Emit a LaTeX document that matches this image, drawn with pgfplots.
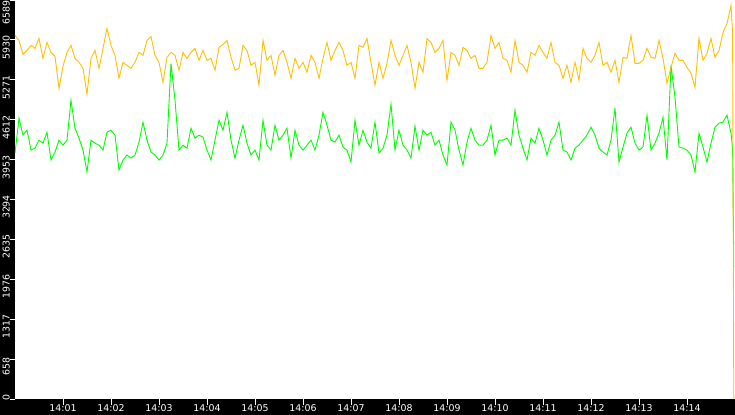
\documentclass[border=0pt]{standalone}
\usepackage{pgfplots}
\pgfplotsset{compat=1.18}
\usepackage{fontspec}
\setmainfont{DejaVu Sans}
\definecolor{amber}{RGB}{255,192,0}
\definecolor{lime}{RGB}{0,255,0}

\begin{document}
\begin{tikzpicture}
\fill[black] (-15bp,-16bp) rectangle (720bp,399bp);
\useasboundingbox (-15bp,-16bp) rectangle (720bp,399bp);
\begin{axis}[
    scale only axis,
    width=720bp, height=399bp,
    xmin=0, xmax=900,
    ymin=0, ymax=6589,
    axis background/.style={fill=white},
    axis line style={draw=none},
    tick align=outside,
    xtick pos=bottom, ytick pos=left,
    tick style={white, line width=1bp},
    xtick style={/pgfplots/major tick length=6bp},
    ytick style={/pgfplots/major tick length=4.5bp},
    xtick={60,120,180,240,300,360,420,480,540,600,660,720,780,840},
    xticklabels={14:01,14:02,14:03,14:04,14:05,14:06,14:07,14:08,14:09,14:10,14:11,14:12,14:13,14:14},
    ytick={0,658.9,1317.8,1976.7,2635.6,3294.5,3953.4,4612.3,5271.2,5930.1,6589},
    yticklabels={{\hspace*{18bp}0},658,1317,1976,2635,3294,3953,4612,5271,5930,{6589\hspace*{10bp}}},
    every tick label/.append style={text=white, font=\fontsize{9.4bp}{10bp}\selectfont, inner sep=0pt},
    xticklabel style={anchor=base, yshift=-8.3bp},
    yticklabel style={xshift=-4.5bp, yshift=-7.5bp, rotate=90, anchor=center},
    clip=true,
]
\addplot[lime, line width=0.9bp, mark=none] coordinates {
(0,4061)(5,4637)(10,4357)(15,4439)(20,4110)(25,4143)(30,4275)(35,4225)(40,4406)(45,3946)
(50,4077)(55,4275)(60,4192)(65,4275)(70,4934)(75,4472)(80,4308)(85,4110)(90,3748)(95,4275)
(100,4225)(105,4192)(110,4110)(115,4406)(120,4439)(125,4357)(130,3781)(135,3946)(140,4028)(145,3978)
(150,4028)(155,4242)(160,4571)(165,4275)(170,4077)(175,4028)(180,3946)(185,4028)(190,4225)(195,5543)
(200,4934)(205,4110)(210,4192)(215,4143)(220,4472)(225,4308)(230,4357)(235,4324)(240,4110)(245,3946)
(250,4275)(255,4604)(260,4439)(265,4736)(270,4275)(275,3978)(280,4275)(285,4522)(290,4225)(295,4028)
(300,4110)(305,3946)(310,4604)(315,4192)(320,4110)(325,4522)(330,4275)(335,4357)(340,4472)(345,3978)
(350,4439)(355,4192)(360,4110)(365,4192)(370,4275)(375,4110)(380,4357)(385,4736)(390,4522)(395,4275)
(400,4242)(405,4357)(410,4160)(415,4110)(420,3913)(425,4604)(430,4192)(435,4439)(440,4242)(445,4143)
(450,4571)(455,4061)(460,4143)(465,4357)(470,4868)(475,4110)(480,4439)(485,4192)(490,4110)(495,3978)
(500,4505)(505,4110)(510,4439)(515,4357)(520,4406)(525,4192)(530,4275)(535,4028)(540,3863)(545,4571)
(550,4439)(555,4110)(560,3863)(565,4242)(570,4472)(575,4275)(580,4192)(585,4192)(590,4275)(595,4522)
(600,4028)(605,4275)(610,4275)(615,4308)(620,4192)(625,4769)(630,4357)(635,4143)(640,3946)(645,4308)
(650,4225)(655,4472)(660,4275)(665,4028)(670,4275)(675,4357)(680,4571)(685,4110)(690,4077)(695,3946)
(700,4143)(705,4192)(710,4275)(715,4357)(720,4489)(725,4357)(730,4143)(735,4077)(740,4028)(745,4275)
(750,4802)(755,3913)(760,4160)(765,4390)(770,4489)(775,4225)(780,4110)(785,4160)(790,4687)(795,4110)
(800,4225)(805,4390)(810,4654)(815,3946)(820,5510)(825,4983)(830,4160)(835,4143)(840,4110)(845,4028)
(850,3748)(855,4390)(860,4160)(865,3913)(870,4225)(875,4489)(880,4555)(885,4571)(890,4687)(895,4390)
(897,4143)(898.5,2183)
};
\addplot[amber, line width=0.9bp, mark=none] coordinates {
(0,6004)(5,5922)(10,5691)(15,5757)(20,5840)(25,5790)(30,5955)(35,5625)(40,5889)(45,5724)
(50,5658)(55,5131)(60,5494)(65,5724)(70,5840)(75,5625)(80,5560)(85,5461)(90,5033)(95,5625)
(100,5757)(105,5461)(110,5790)(115,6120)(120,5840)(125,5675)(130,5296)(135,5560)(140,5510)(145,5461)
(150,5560)(155,5724)(160,5675)(165,5922)(170,5988)(175,5675)(180,5560)(185,5230)(190,5642)(195,5724)
(200,5675)(205,5428)(210,5724)(215,5625)(220,5724)(225,5790)(230,5593)(235,5757)(240,5593)(245,5625)
(250,5428)(255,5807)(260,5856)(265,5922)(270,5642)(275,5428)(280,5461)(285,5840)(290,5757)(295,5510)
(300,5560)(305,5181)(310,5922)(315,5593)(320,5675)(325,5346)(330,5675)(335,5757)(340,5560)(345,5296)
(350,5625)(355,5461)(360,5560)(365,5395)(370,5675)(375,5560)(380,5296)(385,5625)(390,5889)(395,5593)
(400,5757)(405,5889)(410,5757)(415,5510)(420,5560)(425,5296)(430,5840)(435,5807)(440,5955)(445,5560)
(450,5181)(455,5560)(460,5296)(465,5543)(470,5922)(475,5675)(480,5510)(485,5675)(490,5840)(495,5560)
(500,5131)(505,5560)(510,5395)(515,5955)(520,5889)(525,5724)(530,5790)(535,5922)(540,5263)(545,5724)
(550,5675)(555,5510)(560,5807)(565,5757)(570,5625)(575,5675)(580,5461)(585,5461)(590,5560)(595,6004)
(600,5790)(605,5889)(610,5625)(615,5593)(620,5395)(625,5922)(630,5560)(635,5510)(640,5395)(645,5724)
(650,5675)(655,5840)(660,5724)(665,5625)(670,5889)(675,5560)(680,5510)(685,5296)(690,5510)(695,5230)
(700,5560)(705,5263)(710,5790)(715,5625)(720,5560)(725,5675)(730,5889)(735,5510)(740,5560)(745,5395)
(750,5593)(755,5230)(760,5642)(765,5625)(770,6004)(775,5543)(780,5543)(785,5593)(790,5790)(795,5642)
(800,5625)(805,5922)(810,5625)(815,5214)(820,5477)(825,5708)(830,5593)(835,5593)(840,5477)(845,5379)
(850,5148)(855,5955)(860,5593)(865,5708)(870,5955)(875,5642)(880,5757)(885,6054)(890,6202)(895,6499)
(897,6054)(898.5,0)
};
\end{axis}
\end{tikzpicture}
\end{document}
